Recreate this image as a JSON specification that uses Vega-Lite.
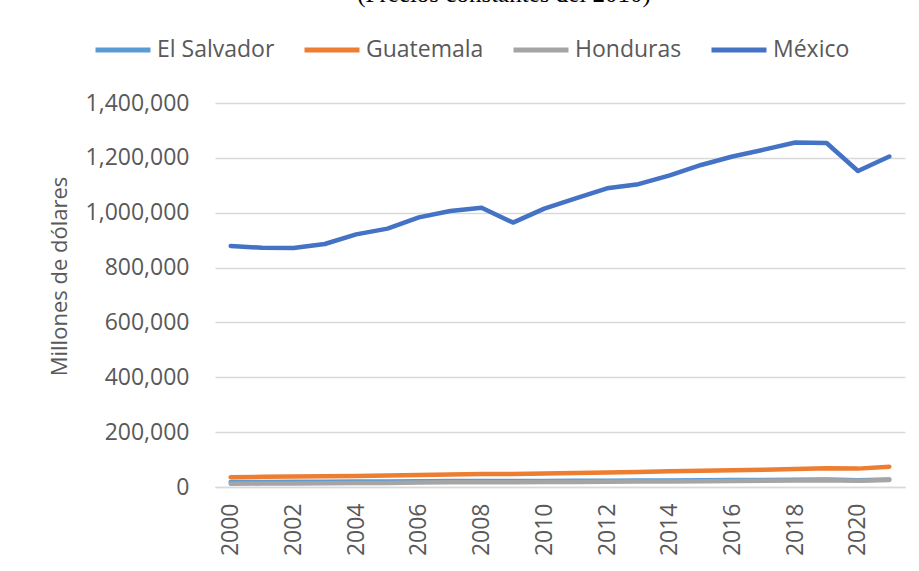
{
  "$schema": "https://vega.github.io/schema/vega-lite/v6.json",
  "width": 690,
  "height": 384,
  "autosize": {"type": "none"},
  "padding": {"left": 215, "top": 103, "right": 14, "bottom": 84},
  "background": "white",
  "title": {
    "text": "(Precios constantes del 2010)",
    "font": "Liberation Serif",
    "fontSize": 25,
    "fontWeight": "normal",
    "color": "#000000",
    "anchor": "middle",
    "baseline": "alphabetic",
    "dx": -56,
    "dy": 7,
    "offset": 0
  },
  "data": {
    "values": [
      {"year": "2000", "country": "El Salvador", "value": 18000},
      {"year": "2001", "country": "El Salvador", "value": 18400},
      {"year": "2002", "country": "El Salvador", "value": 18800},
      {"year": "2003", "country": "El Salvador", "value": 19200},
      {"year": "2004", "country": "El Salvador", "value": 19600},
      {"year": "2005", "country": "El Salvador", "value": 20300},
      {"year": "2006", "country": "El Salvador", "value": 21100},
      {"year": "2007", "country": "El Salvador", "value": 21900},
      {"year": "2008", "country": "El Salvador", "value": 22200},
      {"year": "2009", "country": "El Salvador", "value": 21500},
      {"year": "2010", "country": "El Salvador", "value": 22000},
      {"year": "2011", "country": "El Salvador", "value": 22600},
      {"year": "2012", "country": "El Salvador", "value": 23100},
      {"year": "2013", "country": "El Salvador", "value": 23600},
      {"year": "2014", "country": "El Salvador", "value": 24000},
      {"year": "2015", "country": "El Salvador", "value": 24600},
      {"year": "2016", "country": "El Salvador", "value": 25200},
      {"year": "2017", "country": "El Salvador", "value": 25800},
      {"year": "2018", "country": "El Salvador", "value": 26400},
      {"year": "2019", "country": "El Salvador", "value": 27100},
      {"year": "2020", "country": "El Salvador", "value": 24900},
      {"year": "2021", "country": "El Salvador", "value": 27600},
      {"year": "2000", "country": "Guatemala", "value": 36000},
      {"year": "2001", "country": "Guatemala", "value": 37000},
      {"year": "2002", "country": "Guatemala", "value": 38000},
      {"year": "2003", "country": "Guatemala", "value": 39000},
      {"year": "2004", "country": "Guatemala", "value": 40000},
      {"year": "2005", "country": "Guatemala", "value": 41500},
      {"year": "2006", "country": "Guatemala", "value": 43500},
      {"year": "2007", "country": "Guatemala", "value": 45500},
      {"year": "2008", "country": "Guatemala", "value": 47000},
      {"year": "2009", "country": "Guatemala", "value": 47500},
      {"year": "2010", "country": "Guatemala", "value": 49000},
      {"year": "2011", "country": "Guatemala", "value": 51000},
      {"year": "2012", "country": "Guatemala", "value": 52500},
      {"year": "2013", "country": "Guatemala", "value": 54500},
      {"year": "2014", "country": "Guatemala", "value": 57000},
      {"year": "2015", "country": "Guatemala", "value": 59500},
      {"year": "2016", "country": "Guatemala", "value": 61000},
      {"year": "2017", "country": "Guatemala", "value": 63000},
      {"year": "2018", "country": "Guatemala", "value": 65500},
      {"year": "2019", "country": "Guatemala", "value": 68000},
      {"year": "2020", "country": "Guatemala", "value": 67000},
      {"year": "2021", "country": "Guatemala", "value": 74000},
      {"year": "2000", "country": "Honduras", "value": 12000},
      {"year": "2001", "country": "Honduras", "value": 12400},
      {"year": "2002", "country": "Honduras", "value": 12900},
      {"year": "2003", "country": "Honduras", "value": 13400},
      {"year": "2004", "country": "Honduras", "value": 14200},
      {"year": "2005", "country": "Honduras", "value": 15000},
      {"year": "2006", "country": "Honduras", "value": 16000},
      {"year": "2007", "country": "Honduras", "value": 17000},
      {"year": "2008", "country": "Honduras", "value": 17700},
      {"year": "2009", "country": "Honduras", "value": 17300},
      {"year": "2010", "country": "Honduras", "value": 17900},
      {"year": "2011", "country": "Honduras", "value": 18600},
      {"year": "2012", "country": "Honduras", "value": 19400},
      {"year": "2013", "country": "Honduras", "value": 19900},
      {"year": "2014", "country": "Honduras", "value": 20500},
      {"year": "2015", "country": "Honduras", "value": 21300},
      {"year": "2016", "country": "Honduras", "value": 22100},
      {"year": "2017", "country": "Honduras", "value": 23200},
      {"year": "2018", "country": "Honduras", "value": 24000},
      {"year": "2019", "country": "Honduras", "value": 24600},
      {"year": "2020", "country": "Honduras", "value": 22400},
      {"year": "2021", "country": "Honduras", "value": 25500},
      {"year": "2000", "country": "México", "value": 879000},
      {"year": "2001", "country": "México", "value": 872000},
      {"year": "2002", "country": "México", "value": 871000},
      {"year": "2003", "country": "México", "value": 886000},
      {"year": "2004", "country": "México", "value": 921000},
      {"year": "2005", "country": "México", "value": 942000},
      {"year": "2006", "country": "México", "value": 983000},
      {"year": "2007", "country": "México", "value": 1006000},
      {"year": "2008", "country": "México", "value": 1018000},
      {"year": "2009", "country": "México", "value": 964000},
      {"year": "2010", "country": "México", "value": 1015000},
      {"year": "2011", "country": "México", "value": 1052000},
      {"year": "2012", "country": "México", "value": 1089000},
      {"year": "2013", "country": "México", "value": 1104000},
      {"year": "2014", "country": "México", "value": 1136000},
      {"year": "2015", "country": "México", "value": 1174000},
      {"year": "2016", "country": "México", "value": 1205000},
      {"year": "2017", "country": "México", "value": 1230000},
      {"year": "2018", "country": "México", "value": 1256000},
      {"year": "2019", "country": "México", "value": 1254000},
      {"year": "2020", "country": "México", "value": 1152000},
      {"year": "2021", "country": "México", "value": 1205000}
    ]
  },
  "mark": {"type": "line", "strokeWidth": 4.5, "strokeCap": "round", "strokeJoin": "round"},
  "encoding": {
    "x": {
      "field": "year",
      "type": "ordinal",
      "scale": {"type": "point", "padding": 0.5},
      "axis": {
        "title": null,
        "values": ["2000", "2002", "2004", "2006", "2008", "2010", "2012", "2014", "2016", "2018", "2020"],
        "labelAngle": -90,
        "labelAlign": "right",
        "labelBaseline": "middle",
        "labelPadding": 16,
        "ticks": false,
        "domain": true,
        "domainColor": "#d9d9d9",
        "domainWidth": 1.5,
        "grid": false,
        "labelFont": "Open Sans",
        "labelFontSize": 23,
        "labelColor": "#595959"
      }
    },
    "y": {
      "field": "value",
      "type": "quantitative",
      "scale": {"domain": [0, 1400000], "nice": false},
      "axis": {
        "title": "Millones de dólares",
        "titleFont": "Open Sans",
        "titleFontSize": 22,
        "titleFontWeight": "normal",
        "titleColor": "#595959",
        "titleX": -156,
        "titleY": 173,
        "titleAngle": -90,
        "titleBaseline": "middle",
        "titleAlign": "center",
        "values": [0, 200000, 400000, 600000, 800000, 1000000, 1200000, 1400000],
        "format": ",.0f",
        "labelFont": "Open Sans",
        "labelFontSize": 23,
        "labelColor": "#595959",
        "labelPadding": 26,
        "ticks": false,
        "domain": false,
        "grid": true,
        "gridColor": "#d9d9d9",
        "gridWidth": 1.3
      }
    },
    "color": {
      "field": "country",
      "type": "nominal",
      "scale": {
        "domain": ["El Salvador", "Guatemala", "Honduras", "México"],
        "range": ["#5B9BD5", "#ED7D31", "#A5A5A5", "#4472C4"]
      },
      "legend": {
        "title": null,
        "orient": "none",
        "legendX": -122,
        "legendY": -83,
        "direction": "horizontal",
        "symbolType": "stroke",
        "symbolSize": 3025,
        "symbolStrokeWidth": 5,
        "labelOffset": 4,
        "columnPadding": 19,
        "labelFont": "Open Sans",
        "labelFontSize": 23,
        "labelColor": "#595959"
      }
    }
  },
  "config": {
    "view": {"stroke": null}
  }
}
